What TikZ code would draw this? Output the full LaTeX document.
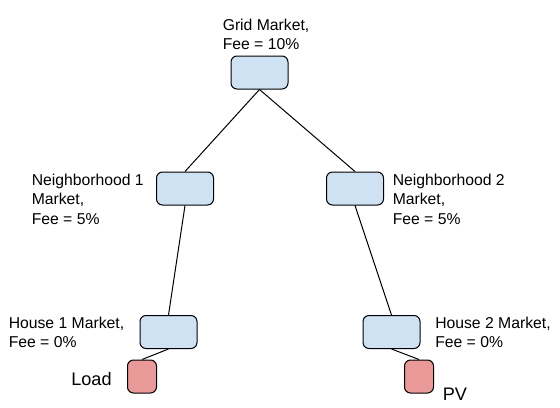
\documentclass[tikz,border=0pt]{standalone}
\usepackage{fontspec}
\setmainfont{Liberation Sans}
\usepackage{tikz}
\definecolor{mktblue}{HTML}{CFE2F3}
\definecolor{devred}{HTML}{EA9999}

\begin{document}
\begin{tikzpicture}[x=0.75pt,y=0.75pt,yscale=-1,xscale=1,
  market/.style={draw=black,line width=0.75pt,fill=mktblue,rounded corners=4.5pt,minimum width=42.75pt,minimum height=24.75pt,inner sep=0pt},
  device/.style={draw=black,line width=0.75pt,fill=devred,rounded corners=4.5pt,minimum width=21.75pt,minimum height=24.75pt,inner sep=0pt},
  lbl/.style={anchor=north west,inner sep=0pt,align=left,font=\fontsize{11.8}{14.7}\selectfont},
  biglbl/.style={lbl,font=\fontsize{13.6}{16}\selectfont},
  link/.style={line width=0.75pt}]
%set diagram size
\path[use as bounding box] (0,0) rectangle (560,407);

%Shape: Rectangle [grid]
\node[market] (grid) at (259.5,72.5) {};
%Shape: Rectangle [neighborhoods]
\node[market] (nbA) at (185,188.5) {};
\node[market] (nbB) at (355,188.5) {};
%Shape: Rectangle [houses]
\node[market] (houseA) at (168.5,332) {};
\node[market] (houseB) at (391.5,332) {};
%Shape: Rectangle [load, pv]
\node[device] (load) at (142,376.5) {};
\node[device] (pv) at (419,376.5) {};

%Text
\node[lbl] (gridtxt) at (222.5,18.5) {Grid Market,\\Fee = 10\%};
\node[lbl] (nbAtxt) at (31.5,173.5) {Neighborhood 1\\Market,\\Fee = 5\%};
\node[lbl] (nbBtxt) at (392.5,173.5) {Neighborhood 2\\Market,\\Fee = 5\%};
\node[lbl] (houseAtxt) at (8.5,316.5) {House 1 Market,\\Fee = 0\%};
\node[lbl] (houseBtxt) at (435,316.5) {House 2 Market,\\Fee = 0\%};
\node[biglbl] (loadtxt) at (71,372.5) {Load};
\node[biglbl] (pvtxt) at (442.5,387.5) {PV};

%Straight Lines
\draw[link] (grid.south) -- (nbA.north);
\draw[link] (grid.south) -- (nbB.north);
\draw[link] (nbA.south) -- (houseA.north);
\draw[link] (nbB.south) -- (houseB.north);
\draw[link] (houseA.south) -- (load.north);
\draw[link] (houseB.south) -- (pv.north);

\end{tikzpicture}
\end{document}
